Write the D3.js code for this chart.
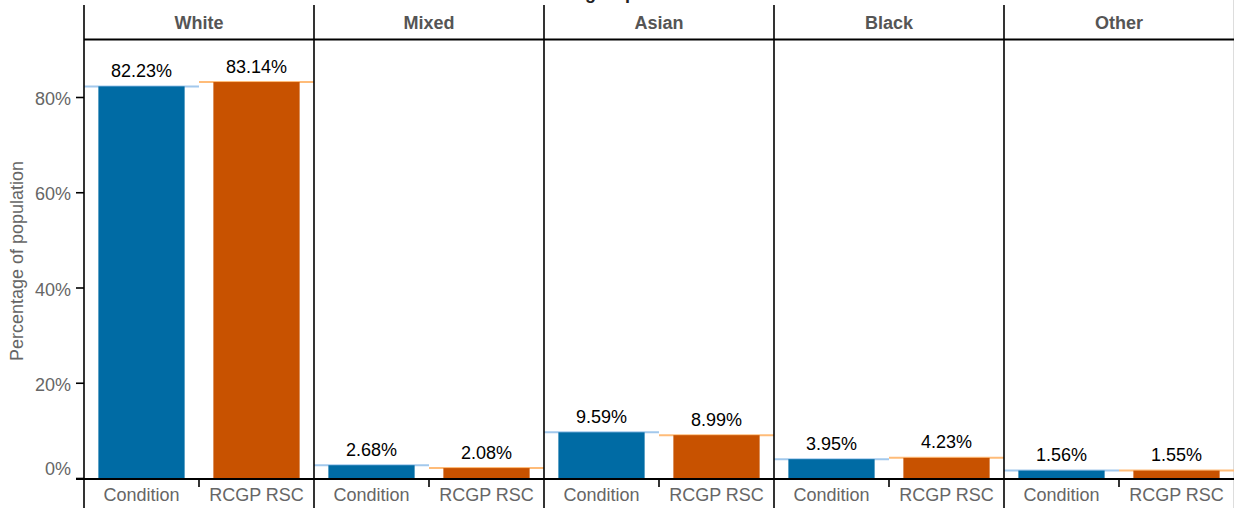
<!DOCTYPE html>
<html>
<head>
<meta charset="utf-8">
<script src="https://cdn.jsdelivr.net/npm/d3@7"></script>
<style>
  html, body { margin: 0; padding: 0; background: #fff; }
  svg { display: block; font-family: "Liberation Sans", Arial, sans-serif; }
</style>
</head>
<body>
<svg id="chart" width="1234" height="508"></svg>
<script>
const groups = ["White", "Mixed", "Asian", "Black", "Other"];
const categories = ["Condition", "RCGP RSC"];
const conditionValues = [82.23, 2.68, 9.59, 3.95, 1.56];
const rcgpValues = [83.14, 2.08, 8.99, 4.23, 1.55];
const yTicks = [0, 20, 40, 60, 80];
const yTickLabels = ["0%", "20%", "40%", "60%", "80%"];
const title = "Ethnic group";
const yTitle = "Percentage of population";

const barColors = ["#006BA4", "#C85200"];
const lightColors = ["#A2C8EC", "#FFBC79"];

const svg = d3.select("#chart");
const W = 1234, H = 508;
const left = 84, right = 1234, axisY = 479, stripTop = 5, stripBottom = 39.5;

const fx = d3.scaleBand().domain(groups).range([left, right]);
const x = d3.scaleBand().domain(categories).range([0, fx.bandwidth()]);
const y = d3.scaleLinear().domain([0, 80]).range([478, 97]);

// partially visible title (clipped at the top edge as in the reference)
svg.append("text").attr("x", 636).attr("y", -1.5).attr("text-anchor", "end")
  .attr("font-size", 18).attr("font-weight", "bold").attr("fill", "#222").text(title);

// right light border
svg.append("line").attr("x1", W - 0.5).attr("x2", W - 0.5).attr("y1", 0).attr("y2", H)
  .attr("stroke", "#ddd").attr("stroke-width", 1);

const data = [];
groups.forEach((g, i) => {
  data.push({ group: g, cat: categories[0], v: conditionValues[i], k: 0 });
  data.push({ group: g, cat: categories[1], v: rcgpValues[i], k: 1 });
});

const panels = svg.selectAll("g.panel").data(groups).join("g")
  .attr("class", "panel")
  .attr("transform", d => `translate(${fx(d)},0)`);

// light reference lines
svg.selectAll("line.ref").data(data).join("line")
  .attr("class", "ref")
  .attr("x1", d => fx(d.group) + x(d.cat))
  .attr("x2", d => fx(d.group) + x(d.cat) + x.bandwidth())
  .attr("y1", d => y(d.v)).attr("y2", d => y(d.v))
  .attr("stroke", d => lightColors[d.k]).attr("stroke-width", 2);

// bars
const bw = x.bandwidth() * 0.75;
svg.selectAll("rect.bar").data(data).join("rect")
  .attr("class", "bar")
  .attr("x", d => fx(d.group) + x(d.cat) + (x.bandwidth() - bw) / 2)
  .attr("width", bw)
  .attr("y", d => y(d.v))
  .attr("height", d => y(0) - y(d.v) + 1)
  .attr("fill", d => barColors[d.k]);

// value labels
svg.selectAll("text.val").data(data).join("text")
  .attr("class", "val")
  .attr("x", d => fx(d.group) + x(d.cat) + x.bandwidth() / 2)
  .attr("y", d => y(d.v) - 9.5)
  .attr("text-anchor", "middle")
  .attr("font-size", 18).attr("fill", "#000")
  .text(d => d.v.toFixed(2) + "%");

// strip labels
panels.append("text")
  .attr("x", fx.bandwidth() / 2).attr("y", 28.5)
  .attr("text-anchor", "middle").attr("font-size", 18).attr("font-weight", "bold")
  .attr("fill", "#555").text(d => d);

// strip bottom line
svg.append("line").attr("x1", left).attr("x2", right).attr("y1", stripBottom).attr("y2", stripBottom)
  .attr("stroke", "#000").attr("stroke-width", 2);

// panel vertical separators
svg.selectAll("line.sep").data(groups).join("line")
  .attr("class", "sep")
  .attr("x1", d => fx(d)).attr("x2", d => fx(d))
  .attr("y1", stripTop).attr("y2", H)
  .attr("stroke", "#000").attr("stroke-width", 1.6);

// x axes: category labels per panel
panels.each(function(g) {
  const ax = d3.select(this).append("g").attr("transform", `translate(0,${axisY})`)
    .call(d3.axisBottom(x).tickSize(0).tickPadding(9));
  ax.select(".domain").remove();
  ax.selectAll("text").attr("font-size", 18).attr("fill", "#666").attr("font-family", null)
    .attr("dy", "0.71em");
  d3.select(this).append("line")
    .attr("x1", fx.bandwidth() / 2).attr("x2", fx.bandwidth() / 2)
    .attr("y1", axisY).attr("y2", axisY + 8)
    .attr("stroke", "#000").attr("stroke-width", 1.6);
});

// x axis line
svg.append("line").attr("x1", left - 8).attr("x2", right).attr("y1", axisY).attr("y2", axisY)
  .attr("stroke", "#000").attr("stroke-width", 2);

// y axis
const yAxis = svg.append("g").attr("transform", `translate(${left},0)`)
  .call(d3.axisLeft(y).tickValues(yTicks).tickFormat((d, i) => yTickLabels[i]).tickSize(8).tickPadding(5));
yAxis.select(".domain").remove();
yAxis.selectAll(".tick line").attr("stroke", "#000").attr("stroke-width", 1.6);
yAxis.selectAll(".tick text").attr("font-size", 18).attr("fill", "#666").attr("font-family", null)
  .attr("dy", d => d === 0 ? "-0.2em" : "0.42em");

// y title
svg.append("text")
  .attr("transform", "translate(23,261) rotate(-90)")
  .attr("text-anchor", "middle").attr("font-size", 18).attr("fill", "#666")
  .text(yTitle);
</script>
</body>
</html>
